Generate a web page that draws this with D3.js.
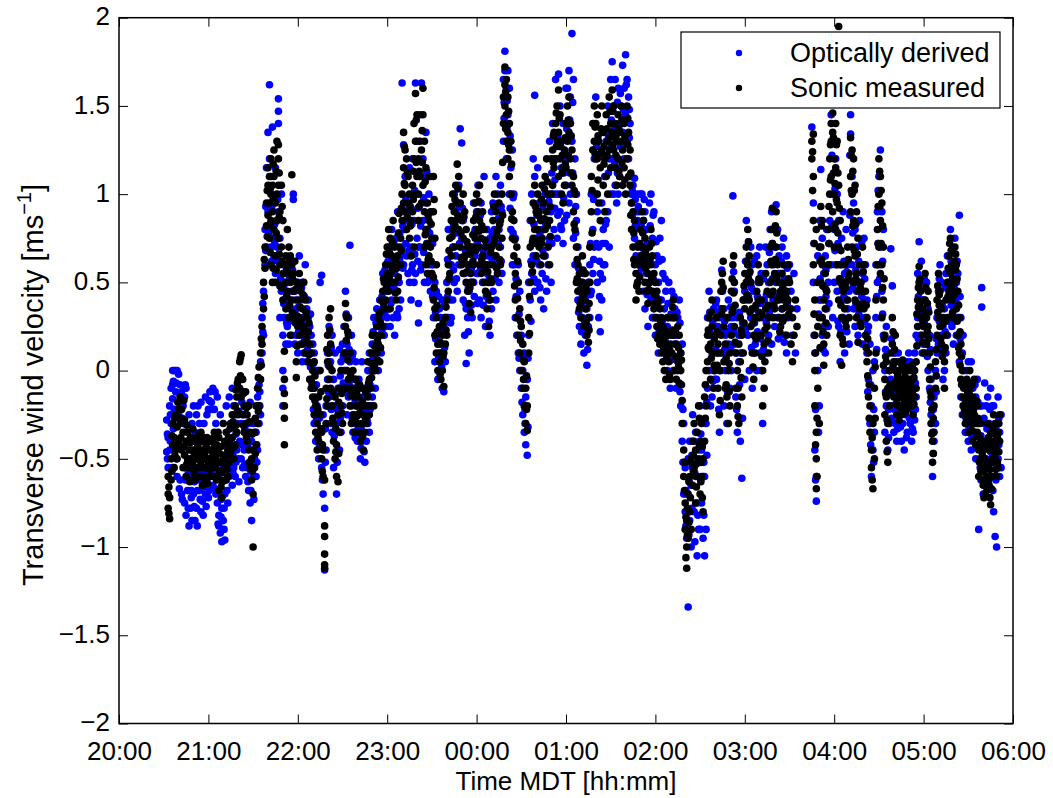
<!DOCTYPE html>
<html>
<head>
<meta charset="utf-8">
<script src="https://cdn.jsdelivr.net/npm/d3@7"></script>
<style>
body { margin: 0; background: #fff; }
text { font-family: "Liberation Sans", Arial, Helvetica, sans-serif; }
</style>
</head>
<body>
<div id="chart"></div>
<script>
// each row: [minutes after 20:00, value, value, ...]  (ms^-1)
let sonicA = [
    [33,-0.7,-0.78,-0.6],[34,-0.84,-0.72],[35,-0.62,-0.5],[36,-0.42,-0.3],[37,-0.38,-0.55],[38,-0.45,-0.25],[39,-0.32,-0.5],[40,-0.22,-0.4],
    [41,-0.15,-0.3],[42,-0.22,-0.45],[43,-0.35,-0.55],[44,-0.28,-0.48],[45,-0.4,-0.6],[46,-0.5,-0.35],[47,-0.45,-0.55],[48,-0.38,-0.5],[49,-0.62,-0.45],
    [50,-0.4,-0.55],[50.5,-0.47,-0.58],[51,-0.45,-0.62],[51.5,-0.5,-0.4],[52,-0.38,-0.5],[52.5,-0.44,-0.6],[53,-0.55,-0.42],[53.5,-0.5,-0.36],
    [54,-0.48,-0.6],[54.5,-0.4,-0.55],[55,-0.35,-0.52],[55.5,-0.46,-0.6],[56,-0.45,-0.65],[56.5,-0.5,-0.38],[57,-0.4,-0.55],[57.5,-0.48,-0.6],
    [58,-0.5,-0.62],[58.5,-0.42,-0.55],[59,-0.45,-0.38],[59.5,-0.5,-0.64],[60,-0.52,-0.6],
    [61,-0.45,-0.56],[61.5,-0.5,-0.4],[62,-0.4,-0.5],[62.5,-0.55,-0.45],[63,-0.48,-0.6],[63.5,-0.38,-0.52],[64,-0.42,-0.35],[64.5,-0.48,-0.6],
    [65,-0.55,-0.5],[65.5,-0.42,-0.62],[66,-0.6,-0.45],[66.5,-0.52,-0.35],[67,-0.68,-0.38],[68,-0.62,-0.52],[69,-0.58,-0.72],[70,-0.48,-0.3],
    [71,-0.4,-0.55],[71.5,-0.48,-0.62],[72,-0.5,-0.35],[72.5,-0.42,-0.56],[73,-0.45,-0.6],[73.5,-0.5,-0.38],[74,-0.4,-0.52],[75,-0.3,-0.45],
    [76,-0.38,-0.25],[77,-0.32,-0.5],[78,-0.2,-0.42],[79,-0.15,-0.35],[80,-0.05,-0.25],
    [81,0.05,-0.1],[82,0.09,-0.15],[83,-0.05,-0.25],[84,-0.2,-0.35],[85,-0.3,-0.12],[86,-0.4,-0.25],[87,-0.2,-0.45],[88,-0.35,-0.55],[89,-0.5,-0.62],[90,-0.45,-0.7,-1.0],
    [91,-0.55,-0.35],[92,-0.2,-0.42],[93,-0.3,-0.1],[94,-0.2,0.02],[95,-0.05,0.1],[96,0.15,0.25],[97,0.35,0.5],[98,0.58,0.7],[99,0.82,0.95],[100,1.05,1.15,0.88],
    [101,1.1,0.95,0.75],[102,1.2,1.0,0.85,0.6],[103,1.05,0.5,0.9],[104,1.25,1.1,0.8],[105,0.95,0.65,0.5],[106,1.3,1.0,0.85],[107,1.28,1.2,1.05,0.75],
    [108,0.9,0.6,0.48],[109,1.05,0.7],[110,0.85,0.55,0.4],
    [111,0.11,-0.05,-0.13,-0.2,-0.27,-0.42],[112,0.5,0.65,0.35],[113,0.8,0.6,0.45],[114,0.55,0.7,0.3],[115,0.65,0.5,0.2],[116,1.11,0.6,0.4],
    [117,0.55,0.45],[118,0.62,0.3],[119,0.05,-0.04,0.5],[120,0.4,0.25]
];
let sonicB = [
    [121,0.55,0.3,0.2],[122,0.45,0.28],[123,0.35,0.15],[124,0.5,0.25],[125,0.4,0.1],[126,0.3,0.18],[127,0.22,0.05],[128,0.15,-0.05],[129,0.1,-0.1],[130,0.0,-0.15],
    [131,-0.1,-0.25,0.05],[132,-0.2,-0.35],[133,-0.3,-0.45],[134,-0.15,-0.4],[135,0.0,-0.25],[136,-0.35,-0.5],[137,-0.45,-0.6],[138,-0.62,-0.88,-0.94,-1.04,-1.1,-1.12],[139,-0.3,-0.1],[140,0.05,0.2,-0.2],
    [141,0.3,0.1,-0.05],[142,0.35,0.15,-0.1],[143,0.0,-0.2],[144,-0.3,-0.4],[145,-0.15,-0.5],[146,-0.42,-0.6],[147,-0.25,-0.63],[148,-0.35,-0.1],[149,-0.2,0.0],[150,-0.1,-0.3],
    [151,0.1,-0.1],[152,0.38,0.25,0.1],[153,0.3,0.0,-0.1],[154,0.2,-0.05],[155,0.1,-0.2],[156,-0.1,-0.3],[157,-0.25,0.0],[158,-0.15,-0.35],[159,-0.05,-0.2],[160,-0.3,-0.1],
    [161,-0.15,-0.35],[162,-0.2,-0.4],[163,-0.1,-0.3],[164,-0.25,-0.45],[165,-0.35,-0.2],[166,-0.1,-0.3],[167,-0.15,0.05],[168,-0.05,-0.25],[169,0.1,-0.1],[170,0.0,0.2],
    [171,0.1,-0.2],[172,0.2,0.0],[173,0.25,0.1],[174,0.3,0.15],[175,0.05,0.33],[176,0.2,0.4],[177,0.25,0.45],[178,0.5,0.35],[179,0.6,0.4],[180,0.55,0.7],
    [181,0.8,0.6,0.45],[182,0.75,0.55,0.35],[183,0.65,0.5],[184,0.85,0.6],[185,0.7,0.5],[186,0.58,0.4],[187,0.65,0.45],[188,0.89,0.7],[189,0.6,0.75],[190,0.85,1.0],
    [191,1.35,1.15,0.95],[192,1.25,1.05,0.9],[193,1.2,0.8],[194,1.1,0.95],[195,1.0,0.75],[196,0.85,0.65],[197,1.05,0.9],[198,1.4,1.2,0.7],[199,1.57,1.3,1.0],[200,1.45,1.1],
    [201,1.2,1.0,0.85],[202,1.3,1.1],[203,1.25,0.95],[204,1.6,1.45,1.05],[205,1.3,0.9,0.7],[206,1.15,0.8,0.6],[207,0.95,0.72,0.55],[208,1.1,0.85,0.65],[209,0.9,0.7],[210,0.75,0.55],
    [211,0.53,0.4,0.9,1.1],[212,0.35,0.2,0.75],[213,0.3,0.1,0.6],[214,0.15,0.0],[215,0.25,0.05],[216,-0.05,0.1],[217,0.2,0.0],[218,-0.09,0.1],[219,0.3,0.15],[220,0.4,0.2],
    [221,0.6,0.45],[222,0.75,0.55],[223,0.85,0.65],[224,1.0,0.8],[225,0.9,0.7],[226,1.05,0.85],[227,1.17,0.95],[228,1.1,0.8],[229,0.95,0.7],[230,0.85,0.6],
    [231,1.0,0.75,0.55],[232,0.9,0.65],[233,0.8,0.5],[234,0.7,0.45],[235,0.6,0.38],[236,0.55,0.33],[237,0.5,0.7],[238,0.85,0.6],[239,0.95,0.75],[240,1.0,0.8]
];
let sonicC = [
    [241,0.9,0.7],[242,1.05,0.85,0.6],[243,0.75,0.55],[244,0.9,0.65],[245,0.8,0.5],[246,0.7,0.45],[247,0.6,0.35],[248,0.5,0.25],[249,0.4,0.6],[250,0.7,0.5],
    [251,0.85,0.6],[252,1.0,0.75],[253,0.9,0.65],[254,0.8,0.55],[255,0.7,0.95],[256,0.6,0.85],[257,1.0,0.75],[258,1.4,1.55],[259,1.62,1.72,1.5],[260,1.65,1.45,1.3],
    [261,1.55,1.35,1.2],[262,1.4,1.25,1.1],[263,1.3,1.0],[264,0.9,0.75],[265,0.65,0.85],[266,0.55,0.4],[267,0.7,0.3],[268,0.2,0.5],[269,0.1,0.35],[270,0.0,0.25],
    [271,-0.1,0.15],[272,-0.2,0.05],[273,-0.3,-0.1],[274,-0.34,-0.2],[275,0.1,0.3],[276,0.5,0.7],[277,0.6,0.85],[278,0.75,0.95],[279,1.05,0.8],[280,0.9,0.65],
    [281,0.8,1.0],[282,0.7,0.9],[283,0.6,0.85],[284,0.75,1.05],[285,0.95,0.65],[286,0.8,1.1],[287,1.2,0.9],[288,1.0,0.7],[289,0.85,0.6],[290,1.0,1.2],
    [291,1.25,1.05],[292,1.35,1.15],[293,1.4,1.2],[294,1.5,1.3],[295,1.59,1.35,1.1],[296,1.45,1.2],[297,1.3,1.0],[298,1.15,0.95],[299,1.25,1.05],[300,1.4,1.15],
    [301,1.5,1.3],[302,1.55,1.35],[303,1.4,1.2],[304,1.25,1.05],[305,1.1,0.9],[306,0.8,1.0],[307,0.7,0.5],[308,0.45,0.6],[309,0.35,0.55],[310,0.4,0.3],
    [311,0.5,0.65],[312,0.4,0.25],[313,0.55,0.35],[314,0.45,0.2],[315,0.3,0.16],[316,0.5,0.7],[317,0.9,1.1],[318,1.25,1.4],[319,1.5,1.3],[320,1.4,1.2],
    [321,1.45,1.2,1.0],[322,1.3,0.95],[323,1.15,0.85],[324,1.5,1.25],[325,1.05,1.35],[326,1.2,0.9],[327,1.45,1.1],[328,1.3,1.0],[329,1.55,1.25],[330,1.4,1.15],
    [331,1.59,1.35],[332,1.5,1.25],[333,1.4,1.15],[334,1.3,1.05],[335,1.45,1.2],[336,1.35,1.1],[337,1.5,1.3],[338,1.25,1.05],[339,1.4,1.15],[340,1.3,1.0],
    [341,1.2,1.5],[342,1.35,1.1],[343,1.25,1.05],[344,0.95,0.8],[345,0.9,0.7],[346,0.6,0.85],[347,0.55,0.4],[348,0.7,0.5],[349,0.6,0.45],[350,0.8,0.65],
    [351,0.9,0.7],[352,0.85,0.6],[353,0.75,0.5],[354,0.65,0.45],[355,0.55,0.38],[356,0.7,0.5],[357,0.8,0.6],[358,0.65,0.45],[359,0.55,0.35],[360,0.5,0.3]
];
let sonicD = [
    [361,0.45,0.25],[362,0.4,0.2],[363,0.35,0.15],[364,0.3,0.1],[365,0.25,0.05],[366,0.2,0.0],[367,0.15,-0.05],[368,0.1,0.3],[369,0.05,0.2],[370,0.15,-0.05],
    [371,0.3,0.1],[372,0.4,0.2],[373,0.3,0.0],[374,0.15,-0.05],[375,0.25,0.05],[376,0.2,-0.07],[377,0.1,0.0],[378,-0.17,-0.3],[379,-0.45,-0.6],[380,-0.75,-0.9],
    [381,-1.0,-1.12,-0.85],[382,-0.7,-0.95],[383,-0.6,-0.8],[384,-0.5,-0.9],[385,-0.4,-0.65],[386,-0.3,-0.55],[387,-0.45,-0.75],[388,-0.35,-0.6],[389,-0.5,-0.2],[390,-0.4,-0.7],
    [391,-0.6,-0.3],[392,-0.8,-0.5],[393,-0.4,-0.15],[394,0.0,-0.2],[395,0.2,0.05],[396,0.3,0.12],[397,0.15,-0.05],[398,0.25,0.4],[399,0.1,-0.1],[400,0.2,0.0],
    [401,0.3,0.1],[402,-0.1,0.15],[403,-0.25,0.0],[404,0.2,0.45],[405,0.55,0.35],[406,0.25,0.05],[407,-0.1,0.15],[408,0.3,-0.15],[409,0.0,-0.3],[410,0.1,-0.2],
    [411,0.2,0.45],[412,0.6,0.35],[413,0.5,0.25],[414,0.1,-0.1],[415,-0.2,0.0],[416,-0.3,0.15],[417,0.3,0.05],[418,-0.15,0.2],[419,0.4,0.1],[420,0.35,0.55],
    [421,0.7,0.5],[422,0.8,0.6],[423,0.65,0.4],[424,0.5,0.25],[425,0.35,0.1],[426,0.2,-0.05],[427,0.1,0.3],[428,0.45,0.2],[429,0.4,0.6],[430,0.3,0.5],
    [431,0.4,0.2],[432,0.0,-0.2],[433,0.15,-0.1],[434,0.35,0.55],[435,0.45,0.25],[436,0.3,0.1],[437,0.5,0.7],[438,0.6,0.8],[439,0.45,0.3],[440,0.55,0.35],
    [441,0.9,0.7],[442,0.6,0.4],[443,0.5,0.3],[444,0.45,0.25],[445,0.35,0.55],[446,0.6,0.4],[447,0.5,0.3],[448,0.45,0.2],[449,0.4,0.6],[450,0.5],
    [451,0.35,0.15],[452,0.3,0.05],[453,0.2],[454,0.4],[455,0.25],
    [465,1.3,1.2],[466,1.34,1.1,0.85,0.6],[467,0.4,0.2,0.0,-0.2],[468,-0.35,-0.5,-0.67,0.8],[469,0.5,0.25,-0.1],[470,0.7,0.3,-0.3],
    [471,0.93,0.7,0.5],[472,0.85,0.6,0.3],[473,0.4,0.15,0.03],[474,0.55,0.35],[475,0.2,0.45],[476,0.6,0.8],[477,1.0,1.2],[478,1.4,1.3,1.1],[479,1.46,1.35,0.9],[480,1.2,1.0,0.7]
];
let sonicE = [
    [481,1.4,1.15,0.8],[482,1.3,0.95,0.6],[483,1.05,0.7,0.4,1.95],[484,0.85,0.5,0.2],[485,0.6,0.3,0.03],[486,0.45,0.15],[487,0.35,0.6],[488,0.5,0.25],[489,0.4,0.7],[490,0.55,0.3],
    [491,1.32,1.1,0.9],[492,1.25,1.0,0.7],[493,1.2,0.85,0.5],[494,1.05,0.65,0.4],[495,0.9,0.55,0.3],[496,0.75,0.45,0.16],[497,0.6,0.35],[498,0.5,0.25],[499,0.45,0.7],[500,0.6,0.35],
    [501,0.45,0.2],[502,0.3,0.05],[503,0.1,-0.15],[504,-0.2,-0.35],[505,-0.45,-0.55],[506,-0.67,-0.3],[507,-0.5,-0.1],[508,0.1,0.4],[509,0.6,0.8],[510,1.0,1.2,0.7],
    [511,1.1,0.85,0.55],[512,0.95,0.6,0.3],[513,0.7,0.4,0.03],[514,0.2,-0.05,-0.25],[515,0.05,-0.15,-0.4],[516,-0.1,-0.3,-0.52],[517,0.0,-0.2],[518,0.1,-0.1],[519,0.3,0.15],[520,0.05,-0.15],
    [521,0.2,0.0,-0.15],[522,0.05,-0.1,-0.25],[523,-0.05,-0.2],[524,0.0,-0.15],[525,-0.1,-0.25],[526,0.06,-0.05,-0.2],[527,-0.1,-0.18],[528,0.0,-0.12],[529,-0.08,-0.22],[530,-0.05,-0.15],
    [531,-0.12,0.0],[532,-0.2,-0.05],[533,-0.1,-0.25],[534,0.0,-0.15],[535,0.05,-0.1],[536,0.25,0.4],[537,0.5,0.59],[538,0.45,0.3],[539,0.35,0.2],[540,0.25,0.1],
    [541,0.4,0.55],[542,0.3,0.15],[543,0.45,0.25],[544,0.1,-0.05],[545,-0.15,-0.3],[546,-0.4,-0.52],[547,-0.2,-0.35],[548,-0.1,0.05],[549,0.2,0.4],[550,0.55,0.3],
    [551,0.45,0.25],[552,0.35,0.15],[553,0.3,0.1],[554,0.05,-0.1],[555,0.2,0.4],[556,0.5,0.3],[557,0.65,0.45],[558,0.75,0.55],[559,0.6,0.4],[560,0.5,0.3],
    [561,0.7,0.5],[562,0.6,0.35],[563,0.45,0.2],[564,0.3,0.1],[565,0.15,-0.05],[566,0.0,-0.15],[567,-0.1,-0.25],[568,-0.2,-0.3],[569,-0.15,-0.05],[570,-0.2,-0.35],
    [571,-0.1,0.0],[572,-0.2,-0.3],[573,-0.15,-0.4],[574,-0.25,-0.05],[575,-0.3,-0.42],[576,-0.2,-0.35],[577,-0.45,-0.6],[578,-0.5,-0.3],[579,-0.4,-0.55],[580,-0.65,-0.45],
    [581,-0.5,-0.7],[582,-0.4,-0.6],[583,-0.3,-0.55],[584,-0.45,-0.65],[585,-0.35,-0.76],[586,-0.5,-0.6],[587,-0.4,-0.25],[588,-0.5,-0.3],[589,-0.6,-0.45],[590,-0.35,-0.55],[591,-0.4,-0.25]
];
// in-between sonic samples, read between the minute columns
let sonicX = [
    [33.5,-0.66,-0.81],[35.5,-0.57,-0.37],[37.5,-0.48,-0.27],[39.5,-0.42,-0.18],
    [41.5,-0.27,-0.38],[43.5,-0.43,-0.17],[45.5,-0.53,-0.31],[47.5,-0.41,-0.63],[49.5,-0.53,-0.33],
    [67.5,-0.57,-0.47],[68.5,-0.43,-0.66],[69.5,-0.51,-0.63],
    [74.5,-0.47,-0.33],[76.5,-0.44,-0.29],[78.5,-0.31,-0.11],[79.5,-0.23,-0.07],
    [81.5,-0.03,0.07],[83.5,-0.13,-0.31],[85.5,-0.21,-0.38],[87.5,-0.29,-0.52],[89.5,-0.36,-0.57],
    [91.5,-0.47,-0.27],[93.5,-0.23,-0.04],[95.5,0.03,0.18],[97.5,0.42,0.63],[99.5,0.76,1.02],
    [101.5,1.03,0.83,0.67],[103.5,1.17,0.97,0.58],[105.5,1.13,0.78,0.57],[107.5,1.12,0.87,0.66],[109.5,0.93,0.62,0.47],
    [112.5,0.57,0.42],[114.5,0.62,0.37],[116.5,0.52,0.33],[118.5,0.46,0.27],[119.5,0.31,0.14],
    [121.5,0.47,0.36],[123.5,0.43,0.22],[125.5,0.33,0.16],[127.5,0.27,0.09],[129.5,0.04,-0.07],
    [131.5,-0.17,-0.03],[133.5,-0.22,-0.38],[135.5,-0.12,-0.33],[136.5,-0.42,-0.57],[139.5,-0.16,0.12],
    [141.5,0.23,0.02],[143.5,-0.12,-0.27],[145.5,-0.33,-0.46],[147.5,-0.47,-0.18],[149.5,-0.13,-0.24],
    [152.5,0.31,0.17],[153.5,0.22,0.06],[155.5,-0.03,-0.14],[157.5,-0.1,-0.28],[159.5,-0.12,-0.26],
    [161.5,-0.24,-0.08],[163.5,-0.18,-0.37],[165.5,-0.27,-0.12],[167.5,-0.07,-0.2],[169.5,0.04,-0.04],
    [171.5,0.03,0.14],[173.5,0.18,0.06],[175.5,0.13,0.27],[177.5,0.38,0.52],[179.5,0.47,0.66],
    [181.5,0.67,0.52],[183.5,0.73,0.57],[185.5,0.63,0.44],[187.5,0.78,0.53],[189.5,0.68,0.92],
    [191.5,1.27,1.06],[193.5,1.12,0.87],[195.5,0.93,0.82],[197.5,0.97,1.13],[199.5,1.42,1.18],
    [201.5,1.13,0.93],[203.5,1.18,1.36],[205.5,1.07,0.77],[207.5,0.88,0.63],[209.5,0.83,0.62],
    [211.5,0.47,0.97],[213.5,0.22,0.37],[215.5,0.16,-0.02],[217.5,0.08,0.27],[219.5,0.23,0.36],
    [221.5,0.52,0.68],[223.5,0.76,0.93],[225.5,0.82,0.97],[227.5,1.03,0.88],[229.5,0.78,0.64],
    [231.5,0.87,0.63],[233.5,0.73,0.56],[235.5,0.47,0.66],[237.5,0.62,0.77],[239.5,0.87,0.68],
    [241.5,0.79,0.96],[243.5,0.82,0.63],[245.5,0.74,0.58],[247.5,0.43,0.56],[249.5,0.52,0.67],
    [251.5,0.72,0.93],[253.5,0.77,0.58],[255.5,0.83,0.63],[257.5,0.88,1.18],[259.5,1.58,1.37],
    [261.5,1.47,1.28],[263.5,1.17,0.86],[265.5,0.74,0.48],[267.5,0.41,0.62],[269.5,0.17,0.28],
    [271.5,0.06,-0.05],[273.5,-0.22,-0.03],[275.5,0.21,0.42],[277.5,0.73,0.56],[279.5,0.93,0.72],
    [281.5,0.88,0.74],[283.5,0.72,0.97],[285.5,0.86,1.03],[287.5,1.07,0.82],[289.5,0.93,0.76],
    [291.5,1.18,1.33],[293.5,1.27,1.46],[295.5,1.43,1.27],[297.5,1.12,1.22],[299.5,1.32,1.17],
    [301.5,1.42,1.22],[303.5,1.33,1.12],[305.5,1.02,0.83],[307.5,0.63,0.52],[309.5,0.46,0.38],
    [311.5,0.57,0.43],[313.5,0.48,0.27],[315.5,0.38,0.23],[317.5,1.02,0.78],[319.5,1.38,1.23],
    [321.5,1.33,1.08],[323.5,1.23,1.37],[325.5,1.17,1.27],[327.5,1.37,1.22],[329.5,1.47,1.32],
    [331.5,1.47,1.28],[333.5,1.33,1.22],[335.5,1.37,1.13],[337.5,1.42,1.18],[339.5,1.33,1.08],
    [341.5,1.28,1.43],[343.5,1.12,0.88],[345.5,0.78,0.63],[347.5,0.62,0.48],[349.5,0.72,0.53],
    [351.5,0.78,0.63],[353.5,0.68,0.58],[355.5,0.62,0.46],[357.5,0.72,0.53],[359.5,0.43,0.38],
    [361.5,0.37,0.18],[363.5,0.28,0.22],[365.5,0.13,0.17],[367.5,0.08,0.22],[369.5,0.12,-0.02],
    [371.5,0.23,0.36],[373.5,0.22,0.08],[375.5,0.13,0.02],[377.5,-0.08,0.06],[379.5,-0.52,-0.68],
    [380.5,-0.83,-1.06],[381.5,-0.93,-0.78],[382.5,-0.86,-0.63],[383.5,-0.72,-0.52],[385.5,-0.48,-0.57],[387.5,-0.53,-0.66],[389.5,-0.42,-0.27],
    [390.5,-0.52,-0.63],[391.5,-0.72,-0.43],[393.5,-0.08,-0.27],[395.5,0.13,0.23],[397.5,0.07,0.33],[399.5,0.18,0.03],
    [401.5,0.22,0.03],[403.5,-0.17,0.1],[404.5,0.32,0.5],[405.5,0.47,0.62],[407.5,0.07,-0.08],[409.5,-0.12,0.04],
    [411.5,0.33,0.52],[412.5,0.65,0.44],[413.5,0.37,0.16],[415.5,-0.1,-0.26],[417.5,0.23,-0.04],[419.5,0.27,0.48],
    [421.5,0.62,0.43],[422.5,0.73,0.52],[423.5,0.56,0.33],[425.5,0.27,0.02],[427.5,0.18,0.37],[429.5,0.52,0.33],
    [431.5,0.32,0.08],[433.5,0.05,0.23],[435.5,0.37,0.17],[437.5,0.62,0.43],[438.5,0.72,0.92],[439.5,0.37,0.52],
    [440.5,0.82,0.63],[441.5,0.78,0.53],[443.5,0.42,0.22],[445.5,0.47,0.28],[447.5,0.42,0.36],[449.5,0.52,0.32],
    [465.5,1.24,1.02],[466.5,0.72,0.32],[467.5,0.1,-0.42],[468.5,-0.6,-0.27],[470.5,0.62,0.13],[471.5,0.82,0.63],[472.5,0.48,0.22],
    [474.5,0.46,0.27],[476.5,0.72,0.93],[477.5,1.08,1.28],[479.5,1.32,1.12],[480.5,1.06,0.83],
    [481.5,1.28,0.97],[482.5,1.12,0.78],[483.5,0.92,0.52],[484.5,0.68,0.37],[485.5,0.18,0.48],[487.5,0.47,0.28],[489.5,0.52,0.63],
    [491.5,1.22,1.02],[492.5,1.13,0.82],[493.5,1.02,0.68],[494.5,0.83,0.52],[495.5,0.66,0.38],[497.5,0.47,0.27],[499.5,0.56,0.38],
    [501.5,0.37,0.13],[502.5,0.18,-0.03],[503.5,-0.08,-0.27],[505.5,-0.38,-0.62],[507.5,-0.27,0.02],[509.5,0.72,0.93],[510.5,1.13,0.93],
    [511.5,1.02,0.72],[512.5,0.82,0.47],[513.5,0.52,0.18],[514.5,0.08,-0.13],[515.5,-0.28,-0.46],[517.5,-0.08,-0.13],[519.5,0.22,0.03],
    [520.5,0.12,-0.07],[521.5,-0.06,-0.19],[522.5,-0.03,-0.16],[523.5,-0.12,-0.28],[524.5,-0.07,-0.21],[525.5,0.03,-0.14],[527.5,-0.03,-0.24],[528.5,-0.06,-0.17],[529.5,-0.13,0.02],
    [530.5,-0.09,-0.2],[531.5,-0.06,-0.17],[532.5,-0.13,0.03],[533.5,-0.04,-0.19],[535.5,0.14,0.32],[536.5,0.47,0.36],[537.5,0.52,0.38],[539.5,0.28,0.16],
    [541.5,0.47,0.33],[542.5,0.38,0.22],[543.5,0.33,0.18],[544.5,0.02,-0.12],[545.5,-0.22,-0.36],[546.5,-0.47,-0.27],[548.5,-0.03,0.12],[549.5,0.33,0.48],
    [550.5,0.43,0.37],[551.5,0.38,0.18],[552.5,0.26,0.08],[554.5,0.13,0.28],[556.5,0.42,0.58],[557.5,0.56,0.72],[558.5,0.68,0.47],[559.5,0.52,0.33],
    [560.5,0.62,0.43],[561.5,0.66,0.57],[562.5,0.52,0.28],[563.5,0.37,0.13],[564.5,0.22,0.03],[565.5,0.08,-0.08],[566.5,-0.06,-0.2],[567.5,-0.16,-0.22],[569.5,-0.12,-0.27],
    [570.5,-0.07,-0.13],[571.5,-0.16,-0.24],[572.5,-0.08,-0.34],[573.5,-0.22,-0.28],[575.5,-0.37,-0.17],[576.5,-0.27,-0.43],[577.5,-0.52,-0.38],[578.5,-0.42,-0.57],[579.5,-0.48,-0.62],
    [580.5,-0.57,-0.72],[581.5,-0.62,-0.43],[582.5,-0.53,-0.68],[583.5,-0.38,-0.62],[584.5,-0.56,-0.72],[585.5,-0.43,-0.67],[586.5,-0.33,-0.52],[587.5,-0.47,-0.36],[588.5,-0.42,-0.56],[589.5,-0.52,-0.38],[590.5,-0.46,-0.3]
];

let opticalA = [
    [32,-0.28,-0.46],[33,-0.38,-0.55],[34,-0.2,-0.45],[35,-0.3,-0.1],[36,-0.08,-0.16,-0.55,0],[37,0,-0.22],[38,0,-0.12],[39,0,-0.6],[40,-0.02,-0.25],
    [41,-0.08,-0.62],[42,-0.12,-0.7],[43,-0.2,-0.3],[44,-0.75,-0.15],[45,-0.1,-0.82],[46,-0.68,-0.4],[47,-0.88,-0.25],[48,-0.78,-0.6],[49,-0.3,-0.85],
    [50,-0.7,-0.2],[51,-0.85,-0.35],[52,-0.25,-0.78],[53,-0.2,-0.62],[54,-0.68,-0.3],[55,-0.8,-0.18],[56,-0.74,-0.4],[57,-0.3,-0.66],[58,-0.7,-0.15],[59,-0.62,-0.25],[60,-0.22,-0.72],
    [61,-0.12,-0.6],[62,-0.18,-0.4],[63,-0.1,-0.65],[64,-0.22,-0.5],[65,-0.7,-0.3],[66,-0.75,-0.15],[67,-0.82,-0.88],[68,-0.92,-0.25],[69,-0.97,-0.78],[70,-0.85,-0.55],
    [71,-0.96,-0.7],[72,-0.62,-0.2],[73,-0.75,-0.4],[74,-0.15,-0.6],[75,-0.5,-0.3],[76,-0.1,-0.65],[77,-0.55,-0.2],[78,-0.25,-0.6],[79,-0.3,-0.45],[80,-0.1,-0.5],
    [81,-0.15,-0.4],[82,-0.3,-0.5],[83,-0.12,-0.55],[84,-0.45,-0.25],[85,-0.6,-0.35],[86,-0.2,-0.55],[87,-0.68,-0.3],[88,-0.18,-0.75],[89,-0.4,-0.85],[90,-0.3,-0.6],
    [91,-0.5,-0.28],[92,-0.6,-0.35],[93,-0.45,-0.15],[94,-0.08,-0.3],[95,0.05,-0.25],[96,0.3,0.1],[97,0.2,0.45],[98,0.8,0.6],[99,1.15,0.7],[100,1.35,0.9],
    [101,1.62,1.2,0.8],[102,0.7,1.1],[103,0.75,1.38],[104,0.65,0.95],[105,0.55,1.15],[106,0.7,0.85],[107,1.54,1.47,1.4,0.9],[108,0.3,0.75],[109,0.45,1.0],[110,0.2,0.6,0.0,-0.1,-0.2],
    [111,0.3,0.6],[112,0.15,0.55],[113,0.25,0.5],[114,0.4,0.15],[115,0.35,0.6],[116,0.2,0.45],[117,1.0,0.97,0.3],[118,0.15,0.45],[119,0.2,0.35],[120,0.1,0.5]
];
let opticalB = [
    [121,0.65,0.3],[122,0.15,0.4],[123,0.5,0.05],[124,0.3,0.1],[125,0.2,0.6],[126,0.05,0.35],[127,0.3,0.4],[128,0.1,0.25],[129,0.2,-0.05],[130,0.15,-0.1],
    [131,0.1,-0.3],[132,-0.15,-0.4],[133,-0.2,0.0],[134,-0.5,0.0],[135,-0.35,0.5],[136,-0.55,-0.42,0.54],[137,-0.25,-0.7],[138,-1.13,-0.78],[139,-0.45,-0.2],[140,-0.05,0.1],
    [141,0.25,-0.15],[142,0.05,-0.3],[143,0.2,-0.35],[144,-0.05,-0.55],[145,-0.2,0.1],[146,-0.7,-0.3],[147,-0.1,-0.45],[148,0.12,-0.45],[149,0.05,-0.35],[150,0.15,-0.2],
    [151,0.25,0.0],[152,0.45,0.0],[153,0.15,-0.25],[154,0.3,-0.15],[155,0.71,0.05],[156,-0.2,0.2],[157,-0.35,0.1],[158,-0.05,-0.25],[159,-0.3,0.05],[160,-0.2,-0.4],
    [161,-0.25,-0.05],[162,-0.5,-0.2],[163,-0.4,0.05],[164,-0.15,-0.3],[165,-0.52,-0.1],[166,-0.4,-0.2],[167,-0.3,0.0],[168,0.1,-0.35],[169,-0.2,0.05],[170,0.15,-0.15],
    [171,0.0,0.3],[172,-0.1,0.15],[173,0.35,0.15],[174,0.0,0.25],[175,0.4,0.2],[176,0.1,0.3],[177,0.35,0.55],[178,0.2,0.45],[179,0.45,0.25],[180,0.3,0.6],
    [181,0.35,0.7],[182,0.25,0.5],[183,0.4,0.8],[184,0.3,0.6],[185,0.55,0.2],[186,0.45,0.75],[187,0.3,0.9],[188,0.5,0.35],[189,0.4,0.65],[190,0.7,1.63],
    [191,1.28,0.6],[192,0.8,1.1],[193,0.65,0.9],[194,0.55,0.85],[195,1.15,0.5],[196,0.7,0.4],[197,0.6,1.2],[198,0.85,0.5],[199,0.55,1.63],[200,1.3,0.75],
    [201,0.38,0.27,0.7],[202,0.7,1.45],[203,0.6,1.63],[204,0.85,1.2],[205,0.5,1.1],[206,1.35,0.95],[207,0.8,0.5],[208,0.6,1.0],[209,0.45,1.1],[210,0.6,0.9],
    [211,0.6,0.3],[212,0.5,0.05],[213,0.45,0.2],[214,0.2,-0.05],[215,0.35,0.1],[216,0.15,0.3],[217,-0.1,0.4],[218,0.25,-0.12],[219,0.05,0.3],[220,0.3,0.5],
    [221,0.3,0.8],[222,0.4,0.6],[223,0.6,0.3],[224,0.7,0.4],[225,0.5,1.0],[226,0.65,0.9],[227,0.8,0.45],[228,1.05,0.6],[229,0.6,1.37],[230,1.29,0.75],
    [231,0.85,0.4],[232,0.55,0.2],[233,0.35,0.04],[234,0.6,0.3],[235,0.45,0.1],[236,0.7,0.5],[237,0.3,0.6],[238,0.95,0.5],[239,0.65,0.8],[240,0.9,0.55]
];
let opticalC = [
    [241,0.55,1.05],[242,0.4,0.7],[243,0.95,0.3],[244,0.5,0.8],[245,0.65,1.1],[246,0.25,0.6],[247,0.55,0.8],[248,0.4,0.65],[249,0.2,0.75],[250,0.35,0.9],
    [251,0.45,0.95],[252,0.6,0.8],[253,1.1,0.4],[254,1.0,0.6],[255,0.5,0.8],[256,1.05,0.7],[257,0.55,0.9],[258,1.3,1.65],[259,1.81,1.7],[260,1.6,1.2],
    [261,1.7,1.45],[262,1.6,1.0],[263,1.15,0.8],[264,1.25,0.6],[265,0.6,1.0],[266,0.3,0.75],[267,0.5,0.2],[268,0.1,0.6],[269,0.45,0.0],[270,0.2,-0.1],
    [271,0.0,-0.25],[272,-0.35,0.1],[273,-0.15,-0.42],[274,-0.48,-0.05],[275,0.2,0.5],[276,0.4,0.85],[277,0.55,1.0],[278,0.65,1.2],[279,1.56,0.45,1.1],[280,0.75,0.5],
    [281,0.5,1.15],[282,0.6,0.95],[283,0.4,0.95],[284,0.55,0.8],[285,0.8,0.35],[286,0.65,1.0],[287,0.45,1.0],[288,0.6,0.85],[289,0.75,1.3],[290,0.9,0.5],
    [291,1.0,1.4],[292,0.8,1.2],[293,1.65,1.0],[294,1.2,0.75],[295,1.68,1.0],[296,0.9,1.5],[297,1.15,0.8],[298,0.72,1.4],[299,0.85,1.2],[300,1.05,1.6],
    [301,1.6,1.2],[302,1.7,0.95],[303,1.55,1.0],[304,1.91,1.3],[305,1.65,0.75],[306,1.2,0.6],[307,0.85,1.0],[308,0.4,0.7],[309,0.25,0.5],[310,0.5,0.15],
    [311,0.3,0.43],[312,0.1,0.55],[313,0.2,0.4],[314,0.03,0.35],[315,0.25,0.5],[316,0.6,0.3],[317,0.45,1.0],[318,0.8,0.55],[319,1.2,0.7],[320,1.0,1.55],
    [321,0.9,0.5],[322,0.7,0.3],[323,0.55,0.22],[324,0.95,0.4],[325,0.8,0.6],[326,1.1,0.6],[327,1.3,0.85],[328,1.5,0.9],[329,1.2,0.7],[330,1.65,1.0],
    [331,1.75,1.2],[332,1.5,1.0],[333,1.05,1.65],[334,1.3,0.95],[335,1.0,1.6],[336,1.4,1.1],[337,1.15,1.5],[338,1.73,1.35],[339,1.6,1.2],[340,1.79,1.45],
    [341,1.65,1.3],[342,1.55,1.2],[343,1.1,1.4],[344,1.0,0.95],[345,1.05,0.8],[346,0.75,1.09],[347,0.9,0.65],[348,0.85,1.0],[349,0.55,0.9],[350,1.0,0.7],
    [351,0.6,1.0],[352,0.45,0.85],[353,0.9,0.35],[354,0.8,0.55],[355,0.6,0.25],[356,0.95,0.5],[357,0.4,1.0],[358,0.75,0.3],[359,0.3,0.9],[360,0.6,0.2]
];
let opticalD = [
    [361,0.65,0.3],[362,0.5,0.1],[363,0.75,0.4],[364,0.4,0.85],[365,0.2,0.55],[366,0.1,0.35],[367,0.45,0.2],[368,0.0,0.25],[369,0.3,0.5],[370,0.1,-0.1],
    [371,0.2,0.45],[372,0.0,0.3],[373,0.35,0.15],[374,-0.1,0.2],[375,0.3,0.0],[376,0.05,0.4],[377,-0.2,0.1],[378,0.15,-0.4],[379,-0.3,-0.7],[380,-0.55,-0.8],
    [381,-0.95,-0.7],[382,-1.34,-0.5],[383,-0.85,-0.4],[384,-0.65,-1.0],[385,-0.55,-0.25],[386,-0.8,-0.4],[387,-0.6,-0.35],[388,-0.75,-1.05],[389,-0.45,-0.9],[390,-0.9,-0.2],
    [391,-0.75,-0.45],[392,-0.95,-0.6],[393,-1.05,-0.6],[394,-0.9,-0.3],[395,-0.1,0.3],[396,0.45,0.0],[397,0.2,-0.2],[398,-0.15,0.1],[399,0.35,0.0],[400,-0.05,0.25],
    [401,0.4,-0.05],[402,0.25,0.1],[403,0.3,-0.35],[404,0.0,0.35],[405,0.1,0.45],[406,0.35,-0.2],[407,0.2,0.0],[408,-0.3,0.1],[409,0.15,0.4],[410,-0.1,0.3],
    [411,0.0,0.25],[412,0.99,0.3],[413,0.15,0.45],[414,-0.15,0.1],[415,0.3,-0.35],[416,0.05,0.2],[417,-0.4,0.1],[418,-0.61,0.1],[419,0.25,0.4],[420,-0.05,0.45],
    [421,0.4,0.85],[422,0.2,0.6],[423,0.55,0.0],[424,0.3,0.7],[425,0.6,-0.1],[426,0.45,0.1],[427,0.15,0.35],[428,0.65,0.0],[429,0.3,0.5],[430,0.1,0.7],
    [431,0.55,0.0],[432,0.3,-0.3],[433,0.4,0.1],[434,0.1,0.7],[435,0.6,0.3],[436,0.2,0.5],[437,0.35,0.8],[438,0.9,0.15],[439,0.6,0.4],[440,0.25,0.7],
    [441,0.94,0.5],[442,0.8,0.3],[443,0.65,0.4],[444,0.2,0.55],[445,0.7,0.35],[446,0.3,0.75],[447,0.45,0.2],[448,0.65,0.1],[449,0.3,0.5],[450,0.6],
    [451,0.45],[452,0.2],[453,0.55],[454,0.1],[455,0.35],
    [465,1.38],[466,0.95,0.5],[467,0.1,-0.45],[468,-0.74,-0.6],[469,0.0,0.65],[470,0.4,-0.2],
    [471,1.14,0.4],[472,0.75,0.2],[473,0.55,0.25],[474,0.1,0.65],[475,0.35,0.8],[476,0.5,0.25],[477,0.85,0.6],[478,0.6,1.45],[479,1.0,0.3],[480,0.5,0.8]
];
let opticalE = [
    [481,1.2,0.6],[482,0.45,1.0],[483,0.25,0.85],[484,0.6,0.05],[485,0.4,0.75],[486,0.3,0.9],[487,0.55,0.1],[488,0.8,0.4],[489,0.35,0.6],[490,0.45,0.15],
    [491,1.45,1.34],[492,1.1,0.6],[493,0.95,0.35],[494,0.8,0.25],[495,0.7,0.45],[496,0.5,0.2],[497,0.85,0.45],[498,0.3,0.6],[499,0.15,0.55],[500,0.4,0.75],
    [501,0.3,0.6],[502,0.1,0.4],[503,-0.05,0.25],[504,-0.3,0.15],[505,-0.6,-0.2],[506,-0.45,0.0],[507,-0.35,0.05],[508,0.3,0.6],[509,0.5,0.9],[510,0.6,1.1],
    [511,1.25,0.7],[512,0.45,0.9],[513,0.2,0.8],[514,0.0,-0.35],[515,-0.2,0.25],[516,-0.45,0.1],[517,-0.3,0.0],[518,-0.05,0.69],[519,0.48,-0.2],[520,0.1,-0.35],
    [521,-0.3,0.1],[522,-0.4,0.0],[523,0.1,-0.3],[524,-0.2,0.05],[525,0.05,-0.4],[526,-0.3,-0.1],[527,0.0,-0.45],[528,-0.25,0.05],[529,0.05,-0.35],[530,-0.2,0.1],
    [531,-0.3,0.05],[532,-0.4,-0.1],[533,-0.35,0.0],[534,-0.28,0.1],[535,-0.15,0.2],[536,0.55,0.3],[537,0.73,0.35],[538,0.2,0.5],[539,0.1,0.4],[540,0.4,0.15],
    [541,0.3,0.1],[542,0.5,0.2],[543,0.0,0.35],[544,0.2,-0.1],[545,-0.05,-0.25],[546,-0.6,-0.35],[547,-0.15,-0.4],[548,0.0,-0.3],[549,0.3,0.1],[550,0.45,0.15],
    [551,0.6,0.1],[552,0.5,0.2],[553,-0.05,0.25],[554,0.35,0.0],[555,0.1,0.55],[556,0.65,0.2],[557,0.3,0.5],[558,0.8,0.45],[559,0.25,0.6],[560,0.6,0.15],
    [561,0.4,0.75],[562,0.2,0.5],[563,0.55,0.3],[564,0.88,0.05],[565,0.3,-0.15],[566,0.1,-0.25],[567,0.0,-0.2],[568,-0.35,-0.1],[569,-0.3,0.0],[570,0.05,-0.4],
    [571,-0.25,-0.1],[572,0.05,-0.45],[573,-0.1,-0.3],[574,-0.35,-0.2],[575,-0.15,-0.5],[576,-0.05,-0.3],[577,-0.3,-0.9],[578,-0.55,-0.2],[579,0.47,0.36,-0.2],[580,-0.7,-0.4],
    [581,-0.07,-0.3],[582,-0.2,-0.5],[583,-0.15,-0.4],[584,-0.3,-0.6],[585,-0.1,-0.46],[586,-0.35,-0.2],[587,-0.2,-0.8],[588,-0.94,-0.45],[589,-0.3,-1.0],[590,-0.15,-0.5],[591,-0.35,-0.6],[592,-0.25,-0.55]
];
let opticalX = [
    [32.5,-0.36,-0.5],[34.5,-0.4,-0.25],[36.5,-0.06,-0.33],[38.5,-0.07,-0.5],[40.5,-0.13,-0.67],[42.5,-0.27,-0.73],[44.5,-0.62,-0.08],[46.5,-0.57,-0.78],[48.5,-0.72,-0.68],
    [50.5,-0.77,-0.63],[52.5,-0.68,-0.88],[54.5,-0.73,-0.58],[56.5,-0.82,-0.63],[58.5,-0.77,-0.57],[60.5,-0.68,-0.17],[62.5,-0.22,-0.58],[64.5,-0.67,-0.12],[66.5,-0.87,-0.68],[68.5,-0.83,-0.73],
    [70.5,-0.78,-0.9],[72.5,-0.68,-0.52],[74.5,-0.55,-0.42],[76.5,-0.48,-0.58],[78.5,-0.36,-0.52],[80.5,-0.23,-0.63],[82.5,-0.42,-0.18],[84.5,-0.53,-0.33],[86.5,-0.63,-0.43],[88.5,-0.57,-0.68],
    [90.5,-0.52,-0.73],[92.5,-0.42,-0.52],[94.5,-0.12,-0.2],[96.5,0.22,0.38],[98.5,0.68,0.93],[100.5,1.03,0.78],[102.5,0.92,0.62],[104.5,0.83,0.72],[106.5,0.62,0.97],[108.5,0.62,0.52],
    [110.5,0.38,0.48],[112.5,0.42,0.27],[114.5,0.52,0.28],[116.5,0.32,0.57],[118.5,0.27,0.4],[120.5,0.36,0.22],[122.5,0.28,0.47],[124.5,0.42,0.18],[126.5,0.22,0.12],[128.5,0.32,0.02],
    [130.5,0.04,-0.22],[132.5,-0.28,-0.08],[134.5,-0.27,-0.42],[136.5,-0.33,-0.62],[138.5,-0.52,-0.33],[140.5,0.03,-0.12],[142.5,0.13,-0.22],[144.5,-0.37,-0.13],[146.5,-0.52,-0.22],[148.5,-0.27,-0.03],
    [150.5,0.08,-0.07],[152.5,0.32,-0.12],[154.5,0.12,-0.08],[156.5,0.08,-0.27],[158.5,-0.17,-0.38],[160.5,-0.33,-0.08],[162.5,-0.32,-0.44],[164.5,-0.22,-0.46],[166.5,-0.28,-0.13],[168.5,-0.22,-0.08],
    [170.5,0.07,0.22],[172.5,0.06,0.27],[174.5,0.12,0.32],[176.5,0.22,0.42],[178.5,0.33,0.57],[180.5,0.47,0.62],[182.5,0.38,0.62],[184.5,0.47,0.72],[186.5,0.58,0.32],[188.5,0.62,0.78],
    [190.5,0.82,0.58],[192.5,0.72,0.98],[194.5,0.68,0.92],[196.5,0.57,0.83],[198.5,0.66,1.02],[200.5,0.92,0.62],[202.5,0.82,0.57],[204.5,0.67,0.98],[206.5,0.72,1.13],[208.5,0.78,0.52],
    [210.5,0.42,0.72],[212.5,0.33,0.18],[214.5,0.08,0.42],[216.5,0.22,0.02],[218.5,0.13,0.37],[220.5,0.42,0.63],[222.5,0.52,0.27],[224.5,0.57,0.83],[226.5,0.78,0.52],[228.5,0.72,0.93],
    [230.5,0.62,0.92],[232.5,0.38,0.68],[234.5,0.47,0.22],[236.5,0.58,0.37],[238.5,0.78,0.42],[240.5,0.72,0.38],[242.5,0.57,0.88],[244.5,0.68,0.37],[246.5,0.42,0.72],[248.5,0.52,0.28],
    [250.5,0.63,0.78],[252.5,0.52,0.93],[254.5,0.72,0.86],[256.5,0.93,0.62],[258.5,1.52,1.43],[260.5,1.38,1.53],[262.5,1.33,0.92],[264.5,0.78,0.98],[266.5,0.52,0.42],[268.5,0.32,0.07],
    [270.5,0.08,-0.18],[272.5,-0.22,-0.3],[274.5,-0.32,0.07],[276.5,0.62,0.28],[278.5,0.83,0.52],[280.5,0.62,0.88],[282.5,0.78,0.47],[284.5,0.68,0.93],[286.5,0.52,0.83],[288.5,0.72,0.96],
    [290.5,1.12,0.72],[292.5,1.08,0.92],[294.5,0.88,1.33],[296.5,1.27,0.82],[298.5,0.98,1.12],[300.5,1.37,0.88],[302.5,1.42,1.12],[304.5,1.52,1.12],[306.5,0.93,0.78],[308.5,0.58,0.33],
    [310.5,0.37,0.22],[312.5,0.28,0.42],[314.5,0.12,0.22],[316.5,0.43,0.72],[318.5,0.97,0.63],[320.5,0.72,1.27],[322.5,0.42,0.62],[324.5,0.72,0.52],[326.5,0.83,0.72],[328.5,1.12,1.33],
    [330.5,1.42,1.27],[332.5,1.37,1.17],[334.5,1.52,1.12],[336.5,1.27,1.57],[338.5,1.48,1.28],[340.5,1.62,1.33],[342.5,1.32,1.48],[344.5,0.88,1.02],[346.5,0.97,0.82],[348.5,0.72,0.93],
    [350.5,0.82,0.58],[352.5,0.68,0.97],[354.5,0.43,0.72],[356.5,0.82,0.62],[358.5,0.52,0.88],[360.5,0.42,0.73],[362.5,0.22,0.62],[364.5,0.63,0.28],[366.5,0.52,0.17],[368.5,0.38,0.12],
    [370.5,0.32,0.06],[372.5,0.22,0.42],[374.5,0.08,0.33],[376.5,0.27,-0.12],[378.5,-0.22,-0.52],[380.5,-0.68,-0.88],[382.5,-0.62,-0.93],[384.5,-0.78,-0.48],[386.5,-0.58,-0.97],[388.5,-0.52,-0.82],
    [390.5,-0.62,-0.36],[392.5,-0.82,-0.52],[394.5,-0.48,-0.18],[396.5,0.22,0.33],[398.5,0.28,-0.06],[400.5,0.12,0.38],[402.5,-0.22,0.33],[404.5,0.22,0.57],[406.5,0.12,0.28],[408.5,0.22,-0.12],
    [410.5,0.12,0.36],[412.5,0.56,0.22],[414.5,0.32,-0.22],[416.5,-0.08,0.33],[418.5,0.27,-0.27],[420.5,0.23,0.62],[422.5,0.42,0.73],[424.5,0.13,0.47],[426.5,0.27,0.62],[428.5,0.42,0.22],
    [430.5,0.38,0.18],[432.5,0.12,0.52],[434.5,0.43,0.27],[436.5,0.67,0.32],[438.5,0.52,0.72],[440.5,0.42,0.62],[442.5,0.55,0.18],[444.5,0.42,0.62],[446.5,0.52,0.16],[448.5,0.38,0.58],
    [466.5,0.72,0.2],[467.5,-0.22,-0.62],[469.5,0.32,-0.35],[470.5,0.52,0.85],[472.5,0.48,0.12],[474.5,0.42,0.57],[476.5,0.72,0.38],[478.5,0.82,1.22],[480.5,0.68,1.03],
    [482.5,0.72,0.28],[484.5,0.52,0.22],[486.5,0.62,0.42],[488.5,0.56,0.22],
    [490.5,1.22,0.88],[492.5,0.78,0.47],[494.5,0.57,0.38],[496.5,0.32,0.62],[498.5,0.42,0.73],[500.5,0.52,0.28],[502.5,0.22,-0.12],[504.5,-0.42,-0.08],[506.5,-0.22,-0.52],[508.5,0.42,0.12],[509.5,0.72,1.02],
    [510.5,0.92,0.52],[512.5,0.62,0.32],[514.5,-0.12,0.12],[516.5,-0.22,-0.38],[518.5,0.18,-0.27],[520.5,-0.12,-0.22],[522.5,-0.25,-0.33],[524.5,-0.12,-0.32],[526.5,-0.22,0.02],[528.5,-0.12,-0.38],
    [530.5,-0.12,-0.27],[532.5,-0.22,-0.33],[534.5,-0.07,-0.22],[536.5,0.42,0.18],[538.5,0.33,0.62],[540.5,0.27,0.52],[542.5,0.38,0.08],[544.5,0.12,-0.18],[546.5,-0.47,-0.22],[548.5,-0.12,0.18],
    [550.5,0.28,0.52],[552.5,0.37,0.12],[554.5,0.22,0.47],[556.5,0.42,0.28],[558.5,0.62,0.37],[560.5,0.47,0.28],[562.5,0.38,0.62],[564.5,0.18,0.42],[566.5,-0.08,0.2],[568.5,-0.22,-0.27],
    [570.5,-0.18,-0.32],[572.5,-0.22,-0.38],[574.5,-0.27,-0.08],[576.5,-0.42,-0.18],[578.5,-0.37,-0.62],[580.5,-0.52,-0.27],[582.5,-0.33,-0.62],[584.5,-0.52,-0.22],[586.5,-0.48,-0.68],[588.5,-0.62,-0.33],[590.5,-0.42,-0.27]
];

let hourTicks = [0, 60, 120, 180, 240, 300, 360, 420, 480, 540, 600];
let hourLabels = ["20:00", "21:00", "22:00", "23:00", "00:00", "01:00", "02:00", "03:00", "04:00", "05:00", "06:00"];
let yTicks = [-2, -1.5, -1, -0.5, 0, 0.5, 1, 1.5, 2];
let yLabels = ["\u22122", "\u22121.5", "\u22121", "\u22120.5", "0", "0.5", "1", "1.5", "2"];
let seriesNames = ["Optically derived", "Sonic measured"];
let seriesColors = ["#0000ff", "#000000"];

let width = 1053;
let height = 798;
let plot = { left: 119, right: 1013, top: 17.7, bottom: 723.5 };
let tickFont = 26;
let labelFont = 27;

function unpack(rows) {
    let out = [];
    rows.forEach(function (r) {
        r.slice(1).forEach(function (v) { out.push({ t: r[0], v: v }); });
    });
    return out;
}

let optical = unpack([].concat(opticalA, opticalB, opticalC, opticalD, opticalE, opticalX));
let sonic = unpack([].concat(sonicA, sonicB, sonicC, sonicD, sonicE, sonicX));

let x = d3.scaleLinear().domain([0, 600]).range([plot.left, plot.right]);
let y = d3.scaleLinear().domain([-2, 2]).range([plot.bottom, plot.top]);

let svg = d3.select("#chart")
    .append("svg")
    .attr("width", width)
    .attr("height", height);

svg.append("rect")
    .attr("width", width)
    .attr("height", height)
    .attr("fill", "#ffffff");

// dots: optical first, sonic drawn over it
[optical, sonic].forEach(function (data, i) {
    svg.append("g")
        .selectAll("circle")
        .data(data)
        .join("circle")
        .attr("cx", d => x(d.t))
        .attr("cy", d => y(d.v))
        .attr("r", 3.8)
        .attr("fill", seriesColors[i]);
});

function styleAxis(g) {
    g.select(".domain").remove();
    g.selectAll(".tick line").attr("stroke", "#000").attr("stroke-width", 1);
    g.selectAll(".tick text")
        .attr("fill", "#000")
        .attr("font-size", tickFont)
        .attr("font-family", "'Liberation Sans', Arial, Helvetica, sans-serif");
}

svg.append("g")
    .attr("transform", "translate(0," + plot.bottom + ")")
    .call(d3.axisBottom(x).tickValues(hourTicks).tickFormat((d, i) => hourLabels[i])
        .tickSizeInner(-9).tickSizeOuter(0).tickPadding(18))
    .call(styleAxis);

svg.append("g")
    .attr("transform", "translate(0," + plot.top + ")")
    .call(d3.axisTop(x).tickValues(hourTicks).tickFormat("").tickSizeInner(-9).tickSizeOuter(0))
    .call(styleAxis);

svg.append("g")
    .attr("transform", "translate(" + plot.left + ",0)")
    .call(d3.axisLeft(y).tickValues(yTicks).tickFormat((d, i) => yLabels[i])
        .tickSizeInner(-9).tickSizeOuter(0).tickPadding(9))
    .call(styleAxis)
    .call(g => g.selectAll(".tick text").attr("dy", "0.28em"));

svg.append("g")
    .attr("transform", "translate(" + plot.right + ",0)")
    .call(d3.axisRight(y).tickValues(yTicks).tickFormat("").tickSizeInner(-9).tickSizeOuter(0))
    .call(styleAxis);

svg.append("rect")
    .attr("x", plot.left)
    .attr("y", plot.top)
    .attr("width", plot.right - plot.left)
    .attr("height", plot.bottom - plot.top)
    .attr("fill", "none")
    .attr("stroke", "#000")
    .attr("stroke-width", 1.5);

// axis titles
svg.append("text")
    .attr("x", (plot.left + plot.right) / 2)
    .attr("y", 790)
    .attr("text-anchor", "middle")
    .attr("font-size", 26)
    .text("Time MDT [hh:mm]");

let ylab = svg.append("text")
    .attr("transform", "translate(43,385) rotate(-90)")
    .attr("text-anchor", "middle")
    .attr("font-size", 29);
ylab.append("tspan").text("Transverse wind velocity [ms");
ylab.append("tspan").attr("dy", -12).attr("font-size", 20).text("\u22121");
ylab.append("tspan").attr("dy", 12).text("]");

// legend
let legend = svg.append("g");
legend.append("rect")
    .attr("x", 681)
    .attr("y", 32)
    .attr("width", 319)
    .attr("height", 76)
    .attr("fill", "#fff")
    .attr("stroke", "#000")
    .attr("stroke-width", 1.2);

seriesNames.forEach(function (name, i) {
    legend.append("circle")
        .attr("cx", 739)
        .attr("cy", 53 + i * 35)
        .attr("r", 3.2)
        .attr("fill", seriesColors[i]);
    legend.append("text")
        .attr("x", 790)
        .attr("y", 62 + i * 35)
        .attr("font-size", labelFont)
        .text(name);
});
</script>
</body>
</html>
